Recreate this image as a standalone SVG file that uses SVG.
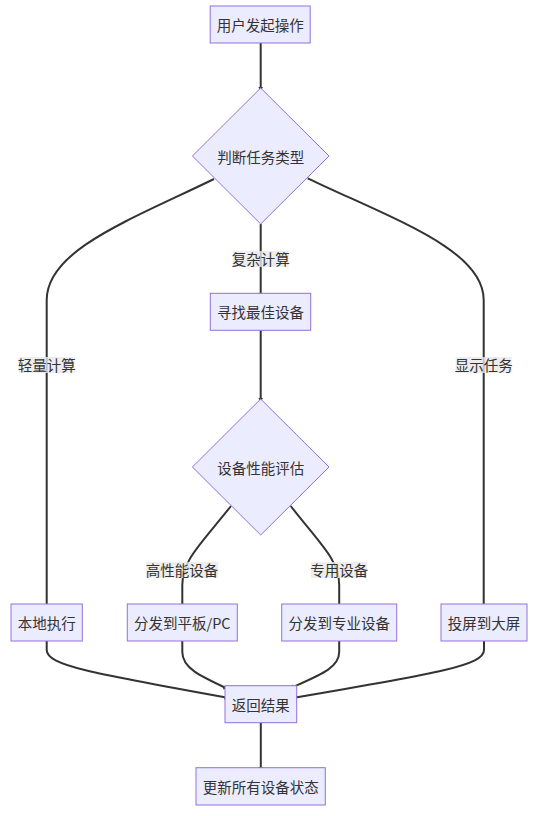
<svg xmlns="http://www.w3.org/2000/svg" width="539" height="816" viewBox="0 0 539 816">
<style>
.node rect,.node polygon{fill:#ECECFF;stroke:#9370DB;stroke-width:1}
.node text,.lbl text{font-family:"Noto Sans CJK SC","Noto Sans",sans-serif;font-size:14.5px;fill:#333;text-anchor:middle;dominant-baseline:central}
.edge{fill:none;stroke:#333;stroke-width:2;marker-end:url(#arr)}
.lbl rect{fill:#e8e8e8;opacity:0.8}
</style>
<defs>
<marker id="arr" viewBox="0 0 10 10" refX="9" refY="5" markerWidth="5" markerHeight="5" markerUnits="userSpaceOnUse" orient="auto">
<path d="M0,0 L10,5 L0,10 z" fill="#333"/>
</marker>
</defs>
<rect width="539" height="816" fill="#fff"/>
<g id="edges">
<path class="edge" d="M260.7,43 L260.7,91"/>
<path class="edge" d="M260.7,224 L260.7,297"/>
<path class="edge" d="M260.7,330.3 L260.7,402"/>
<path class="edge" d="M214,179 C130,220 46.7,250 46.7,300 L46.7,608"/>
<path class="edge" d="M307.7,178.3 C395,220 483.7,250 483.7,300 L483.7,608"/>
<path class="edge" d="M231,506 C200,545 182.3,560 182.3,585 L182.3,608"/>
<path class="edge" d="M290.7,506 C321,545 339.2,560 339.2,585 L339.2,608"/>
<path class="edge" d="M46.7,641 L46.7,650 C46.7,665 90,673 229,698"/>
<path class="edge" d="M182.3,641 L182.3,652 C182.3,668 200,676 228,689"/>
<path class="edge" d="M339.2,641 L339.2,652 C339.2,668 320,675 289.5,688.5"/>
<path class="edge" d="M484,641 L484,650 C484,665 440,673 292.7,698"/>
<path class="edge" d="M260.8,722.7 L260.8,771.5"/>
</g>
<g id="labels">
<g class="lbl"><rect x="232.7" y="251" width="56" height="16"/><text x="260.7" y="258.5">复杂计算</text></g>
<g class="lbl"><rect x="18.7" y="357" width="56" height="16"/><text x="46.7" y="364.5">轻量计算</text></g>
<g class="lbl"><rect x="455.7" y="357" width="56" height="16"/><text x="483.7" y="364.5">显示任务</text></g>
<g class="lbl"><rect x="146" y="562" width="72" height="16"/><text x="182" y="569.5">高性能设备</text></g>
<g class="lbl"><rect x="311" y="562" width="56" height="16"/><text x="339.2" y="569.5">专用设备</text></g>
</g>
<g id="A" class="node"><rect x="210.2" y="6" width="100" height="37"/><text x="260.2" y="24.5">用户发起操作</text></g>
<g id="B" class="node"><polygon points="260.7,88 329,156 260.7,224 192.4,156"/><text x="260.7" y="156">判断任务类型</text></g>
<g id="C" class="node"><rect x="210.3" y="293.3" width="100.4" height="37"/><text x="260.5" y="311.8">寻找最佳设备</text></g>
<g id="D" class="node"><polygon points="260.7,399 329,467 260.7,535 192.4,467"/><text x="260.7" y="467">设备性能评估</text></g>
<g id="E" class="node"><rect x="11" y="604" width="71.3" height="37"/><text x="46.7" y="622.5">本地执行</text></g>
<g id="F" class="node"><rect x="127.3" y="604" width="110" height="37"/><text x="182.3" y="622.5">分发到平板/PC</text></g>
<g id="G" class="node"><rect x="281.7" y="604" width="115" height="37"/><text x="339.2" y="622.5">分发到专业设备</text></g>
<g id="H" class="node"><rect x="441" y="604" width="86" height="37"/><text x="484" y="622.5">投屏到大屏</text></g>
<g id="I" class="node"><rect x="225" y="685.7" width="71.7" height="37"/><text x="260.8" y="704.2">返回结果</text></g>
<g id="J" class="node"><rect x="196" y="767.7" width="129.3" height="37.3"/><text x="260.7" y="786.3">更新所有设备状态</text></g>
</svg>
